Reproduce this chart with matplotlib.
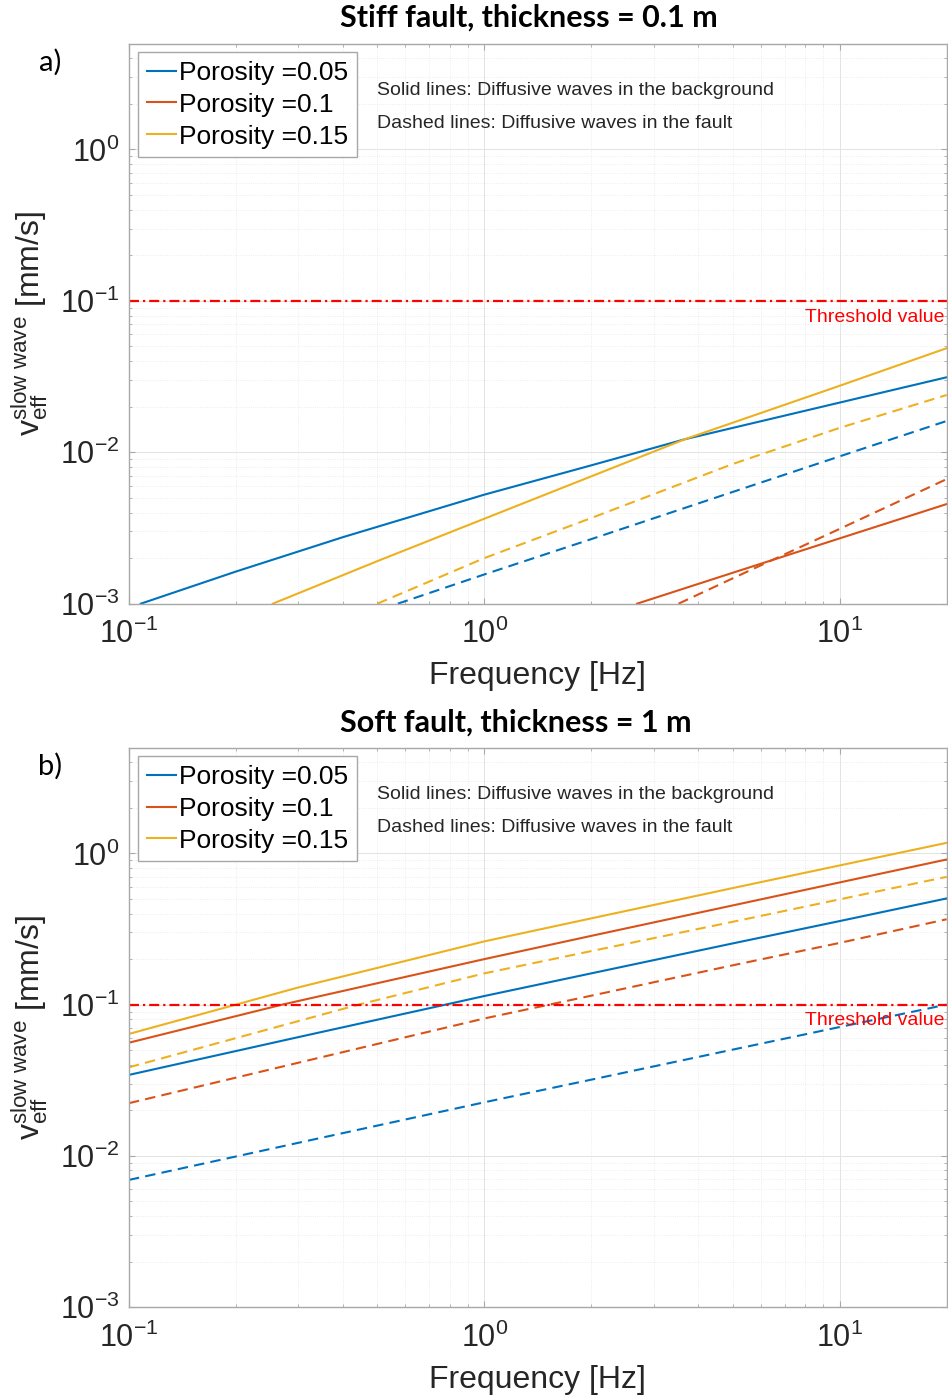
import matplotlib
matplotlib.use('Agg')
import matplotlib.pyplot as plt

# fonts: MATLAB-like Helvetica look
plt.rcParams['font.family'] = ['Liberation Sans', 'DejaVu Sans']
plt.rcParams['mathtext.fontset'] = 'custom'
plt.rcParams['mathtext.rm'] = 'Liberation Sans'
plt.rcParams['mathtext.it'] = 'Liberation Sans:italic'
plt.rcParams['mathtext.bf'] = 'Liberation Sans:bold'

# ---- data ----
porosity_labels = ['Porosity =0.05', 'Porosity =0.1', 'Porosity =0.15']
threshold = 0.1

# a) stiff fault, thickness 0.1 m
a_blue_solid_f = [0.108, 0.2, 0.4, 1, 2, 3.67, 10, 20]
a_blue_solid_v = [0.001, 0.00163, 0.00275, 0.00525, 0.0082, 0.0122, 0.0213, 0.0313]
a_red_solid_f = [2.69, 5, 10, 20]
a_red_solid_v = [0.001, 0.0016, 0.0027, 0.00455]
a_yellow_solid_f = [0.254, 0.5, 1, 3.67, 10, 20]
a_yellow_solid_v = [0.001, 0.00191, 0.00364, 0.0122, 0.0275, 0.0487]
a_blue_dash_f = [0.571, 1, 2, 5, 10, 20]
a_blue_dash_v = [0.001, 0.00156, 0.00267, 0.00547, 0.0094, 0.0161]
a_red_dash_f = [3.52, 5, 10, 20]
a_red_dash_v = [0.001, 0.00147, 0.00312, 0.00665]
a_yellow_dash_f = [0.5, 1, 2, 5, 10, 20]
a_yellow_dash_v = [0.001, 0.002, 0.00368, 0.00837, 0.0145, 0.0239]

# b) soft fault, thickness 1 m
b_blue_solid_f = [0.1, 0.3, 0.778, 1, 2, 5, 10, 20]
b_blue_solid_v = [0.0343, 0.061, 0.1, 0.114, 0.161, 0.254, 0.357, 0.504]
b_red_solid_f = [0.1, 0.27, 1, 2, 5, 10, 20]
b_red_solid_v = [0.056, 0.1, 0.2, 0.285, 0.453, 0.643, 0.912]
b_yellow_solid_f = [0.1, 0.2, 0.3, 1, 2, 5, 10, 20]
b_yellow_solid_v = [0.064, 0.1, 0.13, 0.262, 0.372, 0.59, 0.833, 1.175]
b_blue_dash_f = [0.1, 0.3, 1, 2, 5, 10, 20]
b_blue_dash_v = [0.00693, 0.0122, 0.0226, 0.0319, 0.0504, 0.0711, 0.1]
b_red_dash_f = [0.1, 0.3, 1, 2, 5, 10, 20]
b_red_dash_v = [0.0223, 0.0413, 0.081, 0.1146, 0.182, 0.256, 0.367]
b_yellow_dash_f = [0.1, 0.443, 1, 2, 5, 10, 20]
b_yellow_dash_v = [0.0385, 0.1, 0.161, 0.226, 0.353, 0.497, 0.70]

colors = ['#0072BD', '#D95319', '#EDB120']   # MATLAB default order


def draw_panel(ax, solid, dashed, tag):
    for (f, v), c, lab in zip(solid, colors, porosity_labels):
        ax.plot(f, v, color=c, lw=1.5, label=lab)
    for (f, v), c in zip(dashed, colors):
        ax.plot(f, v, color=c, lw=1.5, dashes=(5, 3))
    ax.axhline(threshold, color='red', lw=1.6, dashes=(4.5, 1.8, 1, 1.8))
    ax.text(19.7, 0.078, 'Threshold value', color='red', fontsize=14,
            ha='right', va='center')

    ax.set_xscale('log')
    ax.set_yscale('log')
    ax.set_xlim(0.1, 20)
    ax.set_ylim(1e-3, 5)

    ax.grid(True, which='major', color='#e3e3e3', lw=0.7)
    ax.grid(True, which='minor', color='#e8e8e8', lw=0.6, ls=':')
    for s in ax.spines.values():
        s.set_color('#a8a8a8')
        s.set_linewidth(1.0)
    ax.tick_params(which='both', direction='in', top=True, right=True,
                   color='#a8a8a8', labelcolor='#262626', labelsize=22)
    ax.tick_params(which='major', length=4.5)
    ax.tick_params(axis='x', which='major', pad=11)
    ax.tick_params(axis='y', which='major', pad=7)
    ax.tick_params(which='minor', length=2.5)

    ax.set_xlabel('Frequency [Hz]', fontsize=23, color='#262626')
    ax.xaxis.label.set_va('center')
    ax.xaxis.set_label_coords(0.5, -0.13)
    ax.set_ylabel(r'$\mathrm{v}_{\mathrm{eff}}^{\mathrm{slow\ wave}}$ [mm/s]',
                  fontsize=23, color='#262626')
    ax.yaxis.label.set_va('center')
    ax.yaxis.set_label_coords(-0.121, 0.5)

    leg = ax.legend(loc='upper left', bbox_to_anchor=(0.011, 0.985),
                    borderaxespad=0, fontsize=19, handlelength=1.1,
                    handletextpad=0.12, labelspacing=0.3, borderpad=0.33,
                    fancybox=False, framealpha=1, edgecolor='#a8a8a8')
    leg.get_frame().set_linewidth(1.0)

    ax.text(0.303, 0.917, 'Solid lines: Diffusive waves in the background',
            transform=ax.transAxes, fontsize=14, va='center', color='#262626')
    ax.text(0.303, 0.857, 'Dashed lines: Diffusive waves in the fault',
            transform=ax.transAxes, fontsize=14, va='center', color='#262626')
    ax.text(-0.096, 0.967, tag, transform=ax.transAxes, fontsize=21,
            family=['Lato', 'DejaVu Sans'], va='center', ha='center')


fig = plt.figure(figsize=(9.48, 14), dpi=100)
ax1 = fig.add_axes([0.136, 0.5688, 0.8626, 0.40])
ax2 = fig.add_axes([0.136, 0.0664, 0.8626, 0.3995])

draw_panel(ax1,
           [(a_blue_solid_f, a_blue_solid_v), (a_red_solid_f, a_red_solid_v),
            (a_yellow_solid_f, a_yellow_solid_v)],
           [(a_blue_dash_f, a_blue_dash_v), (a_red_dash_f, a_red_dash_v),
            (a_yellow_dash_f, a_yellow_dash_v)], 'a)')
draw_panel(ax2,
           [(b_blue_solid_f, b_blue_solid_v), (b_red_solid_f, b_red_solid_v),
            (b_yellow_solid_f, b_yellow_solid_v)],
           [(b_blue_dash_f, b_blue_dash_v), (b_red_dash_f, b_red_dash_v),
            (b_yellow_dash_f, b_yellow_dash_v)], 'b)')

fig.text(0.3587, 1 - 18 / 1400, 'Stiff fault, thickness = 0.1 m', fontsize=22,
         fontweight='bold', family=['Lato', 'DejaVu Sans'], va='center')
fig.text(0.3587, 1 - 723 / 1400, 'Soft fault, thickness = 1 m', fontsize=22,
         fontweight='bold', family=['Lato', 'DejaVu Sans'], va='center')

fig.savefig('out.png', dpi=100)
